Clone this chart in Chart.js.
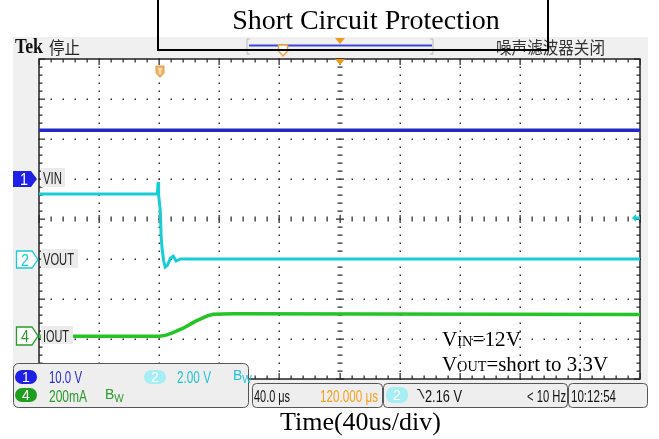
<!DOCTYPE html>
<html>
<head>
<meta charset="utf-8">
<title>Short Circuit Protection</title>
<script src="https://cdn.jsdelivr.net/npm/chart.js@4.4.1/dist/chart.umd.min.js"></script>
<style>
  html, body { margin: 0; padding: 0; background: #fff; }
  #wrap { position: relative; width: 659px; height: 439px; overflow: hidden; }
  #scope { position: absolute; left: 0; top: 0; }
  #overlay { position: absolute; left: 0; top: 0; pointer-events: none; }
  .ui { font-family: "Liberation Sans", "DejaVu Sans", sans-serif; font-size: 16px; }
  .serif { font-family: "Liberation Serif", "Times New Roman", serif; }
  .cjk { font-family: "Noto Sans CJK SC", sans-serif; }
</style>
</head>
<body>
<div id="wrap">
  <canvas id="scope" width="659" height="439"></canvas>
  <svg id="overlay" width="659" height="439" viewBox="0 0 659 439" xmlns="http://www.w3.org/2000/svg">
    <!-- header -->
    <text x="15" y="53" class="serif" style="font-size:20px;font-weight:bold" fill="#111" textLength="28" lengthAdjust="spacingAndGlyphs">Tek</text>
    <text x="49" y="54" class="cjk" style="font-size:17px" fill="#222" textLength="31" lengthAdjust="spacingAndGlyphs">停止</text>
    <text x="496" y="54" class="cjk" style="font-size:17px" fill="#333" textLength="109" lengthAdjust="spacingAndGlyphs">噪声滤波器关闭</text>

    <!-- record position bracket -->
    <path d="M250,39 H247 V54 H250 M430,39 H433 V54 H430" fill="none" stroke="#b8b8b8" stroke-width="1"/>
    <line x1="249" y1="45.5" x2="432" y2="45.5" stroke="#3a46e0" stroke-width="2"/>
    <polygon points="335,38 345,38 340,44" fill="#f09a1a"/>
    <polygon points="278.5,45 287.5,45 287.5,51 283,56 278.5,51" fill="#fff" stroke="#f0a040" stroke-width="1.5"/>

    <!-- title box (border only) -->
    <path d="M158,-2 V50 H548 V-2" fill="none" stroke="#000" stroke-width="2"/>
    <text x="366" y="29" class="serif" style="font-size:28px" text-anchor="middle" fill="#000">Short Circuit Protection</text>

    <!-- trigger markers -->
    <polygon points="156,66 164,66 164,73 160,77.5 156,73" fill="#f3b468" stroke="#ee9a3a" stroke-width="1"/>
    <path d="M158,69 H162 M160,69 V74" stroke="#fff" stroke-width="1.2"/>
    <polygon points="335,59 345,59 340,65" fill="#f09a1a"/>
    <polygon points="632,218 636,214 636,216.5 640,216.5 640,219.5 636,219.5 636,222" fill="#19cdd6"/>

    <!-- channel markers -->
    <polygon points="13,171 31,171 37,179 31,187 13,187" fill="#1f1fe6"/>
    <text x="20" y="185" class="ui" fill="#fff" textLength="8" lengthAdjust="spacingAndGlyphs">1</text>
    <polygon points="16.5,251 32,251 38,259.5 32,268 16.5,268" fill="#fff" stroke="#19cdd6" stroke-width="1.3"/>
    <text x="21" y="265.5" class="ui" fill="#19cdd6" textLength="8" lengthAdjust="spacingAndGlyphs">2</text>
    <polygon points="16.5,327 32,327 38,336 32,345 16.5,345" fill="#fff" stroke="#2a9a2a" stroke-width="1.3"/>
    <text x="21" y="342" class="ui" fill="#2a9a2a" textLength="8" lengthAdjust="spacingAndGlyphs">4</text>

    <rect x="41" y="168" width="24" height="19" fill="#ebebeb"/>
    <text x="43" y="184" class="ui" fill="#222" textLength="19" lengthAdjust="spacingAndGlyphs">VIN</text>
    <rect x="41" y="249" width="37" height="19" fill="#ebebeb"/>
    <text x="43" y="265" class="ui" fill="#222" textLength="31" lengthAdjust="spacingAndGlyphs">VOUT</text>
    <rect x="41" y="326" width="32" height="18" fill="#ebebeb"/>
    <text x="43" y="342" class="ui" fill="#222" textLength="26" lengthAdjust="spacingAndGlyphs">IOUT</text>

    <!-- annotations -->
    <text x="442" y="346" class="serif" style="font-size:22px" fill="#000" textLength="79" lengthAdjust="spacingAndGlyphs">V<tspan style="font-size:15px">IN</tspan>=12V</text>
    <text x="442" y="371" class="serif" style="font-size:22px" fill="#000" textLength="166" lengthAdjust="spacingAndGlyphs">V<tspan style="font-size:15px">OUT</tspan>=short to 3.3V</text>

    <!-- readout panels -->
    <rect x="13.5" y="363.5" width="235" height="44" rx="5" fill="#eeeeee" stroke="#555" stroke-width="1"/>
    <rect x="15" y="370" width="22" height="14" rx="7" fill="#1f1fe6"/>
    <text x="26" y="382" class="ui" style="font-size:14px" text-anchor="middle" fill="#fff">1</text>
    <text x="49" y="382.5" class="ui" fill="#2a2ad8" textLength="33" lengthAdjust="spacingAndGlyphs">10.0 V</text>
    <rect x="144" y="370" width="22" height="14" rx="7" fill="#a6eef4"/>
    <text x="155" y="382" class="ui" style="font-size:14px" text-anchor="middle" fill="#fff">2</text>
    <text x="177" y="382.5" class="ui" fill="#22c4d4" textLength="34" lengthAdjust="spacingAndGlyphs">2.00 V</text>
    <text x="233" y="380" class="ui" style="font-size:14px" fill="#22c4d4">B<tspan dy="3" style="font-size:10px">W</tspan></text>
    <rect x="15" y="388" width="22" height="14" rx="7" fill="#1e9e1e"/>
    <text x="26" y="400" class="ui" style="font-size:14px" text-anchor="middle" fill="#fff">4</text>
    <text x="49" y="401.5" class="ui" fill="#2a9a2a" textLength="38" lengthAdjust="spacingAndGlyphs">200mA</text>
    <text x="105" y="399" class="ui" style="font-size:14px" fill="#2a9a2a">B<tspan dy="3" style="font-size:10px">W</tspan></text>

    <rect x="252.5" y="383.5" width="130" height="24" rx="4" fill="#eeeeee" stroke="#555" stroke-width="1"/>
    <text x="254" y="401.5" class="ui" fill="#111" textLength="36" lengthAdjust="spacingAndGlyphs">40.0 μs</text>
    <text x="320" y="401.5" class="ui" fill="#f0a020" textLength="58" lengthAdjust="spacingAndGlyphs">120.000 μs</text>

    <rect x="383.5" y="383.5" width="184" height="24" rx="4" fill="#eeeeee" stroke="#555" stroke-width="1"/>
    <rect x="386" y="387" width="22" height="16" rx="7" fill="#a6eef4"/>
    <text x="397" y="400" class="ui" style="font-size:14px" text-anchor="middle" fill="#fff">2</text>
    <path d="M417,389.5 H419.5 L424,398.5" fill="none" stroke="#222" stroke-width="1.2"/>
    <text x="425" y="401.5" class="ui" fill="#111" textLength="37" lengthAdjust="spacingAndGlyphs">2.16 V</text>
    <text x="527" y="401.5" class="ui" fill="#111" textLength="39" lengthAdjust="spacingAndGlyphs">&lt; 10 Hz</text>

    <rect x="568.5" y="383.5" width="79" height="24" rx="4" fill="#eeeeee" stroke="#555" stroke-width="1"/>
    <text x="571" y="401.5" class="ui" fill="#111" textLength="45" lengthAdjust="spacingAndGlyphs">10:12:54</text>

    <text x="280" y="430" class="serif" style="font-size:26px" fill="#000">Time(40us/div)</text>
  </svg>
</div>
<script>
// Scope display: 10 horizontal divisions of 40 us, 8 vertical divisions.
// Trace values are in screen divisions (0 = centre line).
const timeTicks = [0, 40, 80, 120, 160, 200, 240, 280, 320, 360, 400];
const divTicks = [-4, -3, -2, -1, 0, 1, 2, 3, 4];

// CH1 (dark blue)
const ch1Time = [0, 400];
const ch1Div = [2.22, 2.22];

// CH2 (cyan) - step down at trigger with undershoot
const ch2Time = [0, 78.7, 79.3, 79.6, 80.7, 81.3, 82, 83, 84, 85.5, 87.5, 89.3, 91.3, 94, 400];
const ch2Div = [0.625, 0.625, 0.925, 0.6, 0.225, -0.45, -0.775, -1.05, -1.2, -1.15, -0.98, -0.93, -1.05, -1.0, -1.0];

// CH4 (green) - output current ramp
const ch4Time = [0, 80, 84, 88, 96, 104, 112, 116, 130, 400];
const ch4Div = [-2.93, -2.93, -2.91, -2.86, -2.73, -2.56, -2.42, -2.38, -2.37, -2.39];

const toPoints = (ts, vs) => ts.map((t, i) => ({ x: t, y: vs[i] }));

document.addEventListener('DOMContentLoaded', () => {
    // 1. Graticule + screen background
    const graticule = {
        id: 'graticule',
        beforeDraw(chart) {
            const { ctx, chartArea: a } = chart;
            ctx.save();
            ctx.fillStyle = '#f0f0f0';
            ctx.fillRect(13, 37, 635, 371);
            ctx.fillStyle = '#ffffff';
            ctx.fillRect(a.left, a.top, a.right - a.left, a.bottom - a.top);
            ctx.restore();
        },
        beforeDatasetsDraw(chart) {
            const { ctx, chartArea: a, scales: { x, y } } = chart;
            const px = v => Math.round(x.getPixelForValue(v));
            const py = v => Math.round(y.getPixelForValue(v));
            const tMin = timeTicks[0], tMax = timeTicks[timeTicks.length - 1];
            const dMin = divTicks[0], dMax = divTicks[divTicks.length - 1];
            const tSteps = (tMax - tMin) / 8;      // 5 minor per division
            const dSteps = (dMax - dMin) * 5;
            ctx.save();
            ctx.fillStyle = '#333';

            // dotted vertical division lines
            timeTicks.slice(1, -1).forEach(t => {
                if (t === 200) return;
                for (let k = 0; k <= dSteps; k++) {
                    ctx.fillRect(px(t) - 0.5, py(dMin + k * 0.2) - 0.5, 1.5, 1.5);
                }
            });
            // dotted horizontal division lines
            divTicks.slice(1, -1).forEach(d => {
                if (d === 0) return;
                for (let k = 0; k <= tSteps; k++) {
                    ctx.fillRect(px(tMin + k * 8) - 0.5, py(d) - 0.5, 1.5, 1.5);
                }
            });

            // centre cross with tick marks
            for (let k = 0; k <= tSteps; k++) {
                const len = k % 5 === 0 ? 4 : 2.5;
                ctx.fillRect(px(tMin + k * 8) - 0.5, py(0) - len, 1.3, len * 2);
            }
            for (let k = 0; k <= dSteps; k++) {
                const len = k % 5 === 0 ? 4 : 2.5;
                ctx.fillRect(px(200) - len, py(dMin + k * 0.2) - 0.5, len * 2, 1.3);
            }

            // border ticks
            for (let k = 0; k <= tSteps; k++) {
                const len = k % 5 === 0 ? 6 : 3.5;
                const xx = px(tMin + k * 8) - 0.5;
                ctx.fillRect(xx, a.top, 1.3, len);
                ctx.fillRect(xx, a.bottom - len, 1.3, len);
            }
            for (let k = 0; k <= dSteps; k++) {
                const len = k % 5 === 0 ? 6 : 3.5;
                const yy = py(dMin + k * 0.2) - 0.5;
                ctx.fillRect(a.left, yy, len, 1.3);
                ctx.fillRect(a.right - len, yy, len, 1.3);
            }

            ctx.strokeStyle = '#222';
            ctx.lineWidth = 1.5;
            ctx.strokeRect(a.left, a.top, a.right - a.left, a.bottom - a.top);
            ctx.restore();
        }
    };

    // 2. Traces
    const ctx = document.getElementById('scope').getContext('2d');
    new Chart(ctx, {
        type: 'line',
        data: {
            datasets: [
                { label: 'CH1', data: toPoints(ch1Time, ch1Div), borderColor: '#2228c8', borderWidth: 3.5 },
                { label: 'VOUT', data: toPoints(ch2Time, ch2Div), borderColor: '#19cdd6', borderWidth: 3 },
                { label: 'IOUT', data: toPoints(ch4Time, ch4Div), borderColor: '#25c425', borderWidth: 3.5 }
            ]
        },
        options: {
            responsive: false,
            animation: false,
            layout: { padding: { left: 39, top: 59, right: 19, bottom: 60 } },
            elements: { point: { radius: 0 }, line: { tension: 0 } },
            plugins: { legend: { display: false }, tooltip: { enabled: false } },
            scales: {
                x: { type: 'linear', min: timeTicks[0], max: timeTicks[timeTicks.length - 1], display: false },
                y: { type: 'linear', min: divTicks[0], max: divTicks[divTicks.length - 1], display: false }
            }
        },
        plugins: [graticule]
    });
});
</script>
</body>
</html>
